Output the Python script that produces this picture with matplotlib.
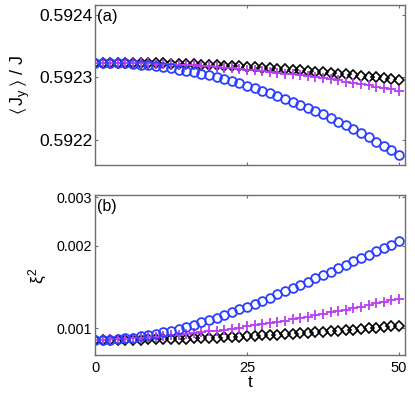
import matplotlib
matplotlib.use("Agg")
import matplotlib.pyplot as plt
from matplotlib.ticker import NullLocator, FixedLocator, FixedFormatter

plt.rcParams['font.family'] = ['Liberation Sans', 'DejaVu Sans']
plt.rcParams['mathtext.fontset'] = 'custom'
plt.rcParams['mathtext.rm'] = 'Liberation Sans'
plt.rcParams['mathtext.it'] = 'Liberation Sans'
plt.rcParams['mathtext.fallback'] = 'stixsans'

# time grid (41 samples from 0 to 50)
t = [1.25 * k for k in range(41)]

# panel (a): <J_y>/J
jy_circle = [0.5923240, 0.5923239, 0.5923236, 0.5923232, 0.5923225, 0.5923217, 0.5923207,
             0.5923195, 0.5923181, 0.5923165, 0.5923148, 0.5923128, 0.5923107, 0.5923084,
             0.5923059, 0.5923032, 0.5923003, 0.5922973, 0.5922940, 0.5922906, 0.5922870,
             0.5922832, 0.5922792, 0.5922751, 0.5922707, 0.5922662, 0.5922615, 0.5922566,
             0.5922515, 0.5922462, 0.5922408, 0.5922351, 0.5922293, 0.5922233, 0.5922171,
             0.5922107, 0.5922041, 0.5921974, 0.5921904, 0.5921833, 0.5921760]
jy_plus = [0.5923240, 0.5923240, 0.5923239, 0.5923238, 0.5923236, 0.5923233, 0.5923230,
           0.5923226, 0.5923222, 0.5923217, 0.5923212, 0.5923206, 0.5923200, 0.5923193,
           0.5923185, 0.5923177, 0.5923168, 0.5923159, 0.5923149, 0.5923139, 0.5923128,
           0.5923116, 0.5923104, 0.5923091, 0.5923078, 0.5923064, 0.5923050, 0.5923035,
           0.5923020, 0.5923004, 0.5922987, 0.5922970, 0.5922952, 0.5922934, 0.5922915,
           0.5922896, 0.5922876, 0.5922855, 0.5922834, 0.5922812, 0.5922790]
jy_diamond = [0.5923240, 0.5923240, 0.5923239, 0.5923238, 0.5923237, 0.5923236, 0.5923234,
              0.5923231, 0.5923229, 0.5923226, 0.5923223, 0.5923219, 0.5923215, 0.5923210,
              0.5923206, 0.5923201, 0.5923195, 0.5923189, 0.5923183, 0.5923177, 0.5923170,
              0.5923163, 0.5923155, 0.5923147, 0.5923139, 0.5923131, 0.5923122, 0.5923112,
              0.5923103, 0.5923093, 0.5923083, 0.5923072, 0.5923061, 0.5923049, 0.5923038,
              0.5923026, 0.5923013, 0.5923000, 0.5922987, 0.5922974, 0.5922960]

# panel (b): xi^2 (units of 1e-6 below, converted when plotting)
xi_circle = [906.0, 906.7, 908.9, 912.6, 917.7, 924.3, 932.3, 941.8, 952.8, 965.2, 979.1,
             994.5, 1011.3, 1029.6, 1049.3, 1070.5, 1093.2, 1117.3, 1142.9, 1170.0, 1198.5,
             1228.5, 1259.9, 1292.8, 1327.2, 1363.0, 1400.3, 1439.1, 1479.3, 1521.0, 1564.1,
             1608.7, 1654.8, 1702.3, 1751.3, 1801.8, 1853.7, 1907.1, 1961.9, 2018.2, 2076.0]
xi_plus = [906.0, 907.6, 909.7, 912.1, 915.0, 918.2, 921.8, 925.8, 930.2, 935.0, 940.3,
           945.9, 951.8, 958.2, 965.0, 972.2, 979.8, 987.7, 996.1, 1004.9, 1014.0,
           1023.6, 1033.5, 1043.8, 1054.6, 1065.7, 1077.2, 1089.1, 1101.4, 1114.2, 1127.3,
           1140.8, 1154.6, 1168.9, 1183.6, 1198.7, 1214.2, 1230.0, 1246.3, 1263.0, 1280.0]
xi_diamond = [906.0, 906.1, 906.3, 906.6, 907.1, 907.8, 908.6, 909.5, 910.6, 911.8, 913.1,
              914.6, 916.3, 918.0, 920.0, 922.0, 924.2, 926.6, 929.1, 931.7, 934.5,
              937.4, 940.5, 943.7, 947.0, 950.5, 954.2, 957.9, 961.9, 965.9, 970.1,
              974.5, 979.0, 983.6, 988.4, 993.3, 998.3, 1003.5, 1008.9, 1014.4, 1020.0]

a_yticks = [0.5922, 0.5923, 0.5924]
a_yticklabels = ['0.5922', '0.5923', '0.5924']
b_yticks = [0.001, 0.002, 0.003]
b_yticklabels = ['0.001', '0.002', '0.003']
xticks = [0, 25, 50]
xticklabels = ['0', '25', '50']

BLUE = '#2b40ff'
PURPLE = '#bb3cf2'
BLACK = '#000000'
SPINE = '#6e6e6e'

fig = plt.figure(figsize=(4.15, 3.96), dpi=100)
ax1 = fig.add_axes([95/415, 1-165/396, 310/415, 160/396])
ax2 = fig.add_axes([95/415, 1-355/396, 310/415, 160/396])

def draw(ax, yc, yp, yd):
    ax.plot(t, yd, linestyle='none', marker='D', ms=5.4, mfc='none', mec=BLACK, mew=1.2)
    ax.plot(t, yp, linestyle='none', marker='+', ms=6.5, mec=PURPLE, mew=1.3)
    ax.plot(t, yc, linestyle='none', marker='o', ms=6.3, mfc='none', mec=BLUE, mew=1.3)

draw(ax1, jy_circle, jy_plus, jy_diamond)
draw(ax2, [v*1e-6 for v in xi_circle], [v*1e-6 for v in xi_plus], [v*1e-6 for v in xi_diamond])

for ax in (ax1, ax2):
    ax.set_xlim(0, 51)
    ax.xaxis.set_major_locator(FixedLocator(xticks))
    for s in ax.spines.values():
        s.set_color(SPINE)
        s.set_linewidth(1.0)
    ax.tick_params(which='both', direction='in', top=True, right=True, length=2.5,
                   width=0.8, color=SPINE, labelcolor='black')

ax1.set_ylim(0.592160, 0.592416)
ax1.yaxis.set_major_locator(FixedLocator(a_yticks))
ax1.yaxis.set_major_formatter(FixedFormatter(a_yticklabels))
ax1.tick_params(axis='y', labelsize=12.5, pad=2)
ax1.tick_params(axis='x', labelbottom=False)
ax1.text(0.006, 0.975, '(a)', transform=ax1.transAxes, ha='left', va='top', fontsize=12)

ax2.set_yscale('log')
ax2.set_ylim(0.000798, 0.00306)
ax2.yaxis.set_major_locator(FixedLocator(b_yticks))
ax2.yaxis.set_major_formatter(FixedFormatter(b_yticklabels))
ax2.yaxis.set_minor_locator(NullLocator())
ax2.tick_params(axis='y', labelsize=10.3, pad=2)
ax2.xaxis.set_major_formatter(FixedFormatter(xticklabels))
ax2.tick_params(axis='x', labelsize=10.5, pad=4)
ax2.text(0.006, 0.975, '(b)', transform=ax2.transAxes, ha='left', va='top', fontsize=11.5)
ax2.set_xlabel('t', fontsize=12.5, labelpad=0)

fig.text(20/415, 1-85/396, r'$\langle\, \mathrm{J_y} \,\rangle$ / J', rotation=90,
         ha='center', va='center', fontsize=13)
fig.text(38/415, 1-275/396, r'$\xi^2$', rotation=90, ha='center', va='center', fontsize=12.5)

fig.savefig('out.png', dpi=100)
